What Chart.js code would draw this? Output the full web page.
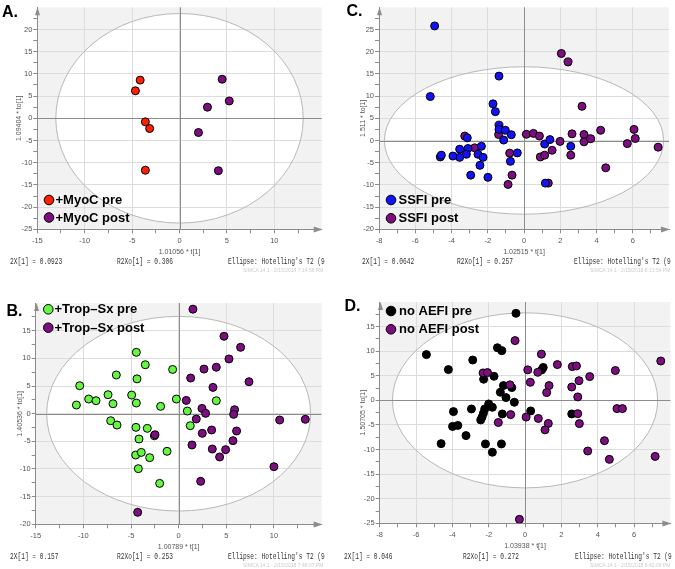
<!DOCTYPE html>
<html>
<head>
<meta charset="utf-8">
<script src="https://cdn.jsdelivr.net/npm/chart.js@4.4.1/dist/chart.umd.min.js"></script>
<style>
  body { margin: 0; width: 675px; height: 569px; background: #fff; position: relative; overflow: hidden; }
  canvas { position: absolute; }
  .tag { position: absolute; font: bold 16px/16px "Liberation Sans", Arial, sans-serif; color: #000; }
  .stat { position: absolute; font: 8.5px/10px "Liberation Mono", monospace; color: #333; white-space: nowrap; transform: scaleX(0.73); transform-origin: 0 0; }
  .simca { position: absolute; font: 5px/6px "Liberation Sans", Arial, sans-serif; color: #ccc; white-space: nowrap; }
</style>
</head>
<body>
<script>
// score values, one [t[1], to[1]] pair per observation
const myocPre = [[-4.15, 8.6], [-4.65, 6.2], [-3.6, -0.8], [-3.15, -2.3], [-3.6, -11.7]];
const myocPost = [[4.5, 8.8], [5.25, 3.9], [2.95, 2.5], [2.0, -3.2], [4.1, -11.8]];

const tropPre = [[-10.38, 5.06], [-10.73, 1.57], [-9.44, 2.65], [-8.67, 2.35], [-7.41, 3.43], [-6.89, 1.8],
  [-6.54, 7.0], [-7.13, -1.27], [-6.47, -2.05], [-4.44, 11.1], [-4.37, 6.3], [-3.5, 8.85], [-4.93, 3.37],
  [-4.44, 1.93], [-4.48, -2.47], [-4.16, -4.58], [-3.29, -2.65], [-2.55, -4.0], [-4.51, -7.47], [-3.92, -7.0],
  [-3.04, -7.95], [-4.23, -9.94], [-1.89, 1.33], [-1.99, -12.6], [-1.22, -6.8], [-0.63, 8.0], [-0.24, 2.65],
  [0.91, 0.48], [1.22, -2.17], [3.95, 2.35]];
const tropPost = [[1.5, 18.9], [4.76, 14.0], [6.5, 12.0], [5.28, 9.9], [3.95, 8.4], [2.66, 8.07], [1.26, 6.45],
  [3.6, 4.76], [7.38, 5.78], [0.8, 2.4], [2.45, 0.96], [2.83, 0.06], [1.85, -0.96], [5.87, 0.72], [5.77, -0.12],
  [3.46, -2.95], [2.48, -3.55], [6.08, -3.13], [5.7, -4.88], [1.4, -5.66], [3.53, -6.39], [4.93, -6.5],
  [4.3, -7.83], [10.6, -1.14], [13.29, -1.02], [10.0, -9.58], [2.31, -12.23], [-4.3, -17.83], [-2.48, -3.8]];

const ssfiPre = [[-4.93, 25.8], [-5.17, 9.9], [-1.38, 14.5], [-1.71, 8.25], [-1.58, 6.5], [-1.38, 3.45],
  [-1.38, 2.5], [-1.03, 2.3], [-0.7, 1.3], [-1.12, 0.1], [-3.13, 0.6], [-3.09, -1.8], [-3.18, -3.1],
  [-3.55, -1.95], [-3.55, -3.8], [-3.92, -3.5], [-4.62, -3.7], [-4.56, -3.3], [-2.54, -3.1], [-2.35, -1.3],
  [-2.26, -3.8], [-2.43, -5.6], [-2.94, -7.8], [-1.99, -8.3], [-0.75, -4.7], [-0.37, -2.8], [1.14, -0.8],
  [1.43, 0.2], [2.58, -1.3], [1.18, -9.6]];
const ssfiPost = [[2.06, 19.6], [2.43, 17.7], [3.2, 7.7], [-3.27, 1.0], [-2.72, -1.65], [-1.4, 1.35],
  [-0.79, -2.85], [-0.66, -7.8], [-0.88, -9.9], [0.13, 1.4], [0.52, 1.6], [0.85, 1.0], [0.9, -3.7],
  [1.14, -3.3], [1.55, -2.2], [1.99, -0.2], [1.34, -9.6], [2.58, -3.3], [2.65, 1.5], [3.31, 1.35],
  [3.31, -0.3], [3.68, 0.4], [4.23, 2.3], [4.51, -6.15], [5.7, -0.7], [6.07, 2.5], [6.14, 0.45], [7.4, -1.5]];

const noAefiPre = [[-0.5, 17.7], [-1.52, 10.7], [-1.28, 10.1], [-5.43, 9.3], [-2.88, 8.2], [-4.22, 6.25],
  [-2.28, 4.3], [-1.71, 4.9], [-1.19, 3.0], [-0.73, 2.6], [-1.36, 1.65], [-1.05, 0.56], [-0.59, -0.39],
  [-2.0, -0.73], [-1.8, -1.41], [-2.22, -1.75], [-2.29, -2.63], [-2.37, -3.44], [-2.44, -3.98], [-3.94, -2.29],
  [-2.95, -1.75], [-1.25, -2.77], [-3.99, -5.3], [-3.7, -5.1], [-3.25, -7.17], [-4.62, -8.8], [-2.18, -8.86],
  [-1.8, -10.55], [-1.3, -8.86], [0.31, -2.15], [0.92, 6.2], [1.0, 6.7], [2.57, -2.76]];
const noAefiPost = [[-0.55, 12.15], [-2.31, 5.58], [-2.07, 5.65], [-0.83, 3.15], [-1.47, -4.5], [-0.79, -2.9],
  [0.06, -3.4], [0.15, 6.2], [0.29, 3.67], [0.9, 9.4], [0.7, 5.7], [1.78, 7.27], [1.32, 3.0], [1.19, 1.58],
  [0.73, -3.68], [1.28, -4.7], [1.1, -6.0], [2.6, 6.86], [2.83, 7.0], [2.97, 4.0], [2.57, 2.71], [2.9, 0.7],
  [2.9, -2.7], [2.99, -4.73], [3.56, 4.83], [4.97, 6.07], [5.06, -1.68], [5.36, -1.68], [3.45, -10.3],
  [4.37, -8.2], [4.64, -12.0], [7.16, -11.4], [7.47, 8.0], [-0.31, -24.2]];

// Hotelling's T2 ellipse half-widths [t[1], to[1]]
const ellipses = [[13.05, 23.6], [13.85, 17.6], [7.7, 16.6], [7.3, 17.8]];

// texts, panel order A, B, C, D
const tags = ['A.', 'B.', 'C.', 'D.'];
const xTitles = ['1.01056 * t[1]', '1.00789 * t[1]', '1.02515 * t[1]', '1.03938 * t[1]'];
const yTitles = ['1.09404 * to[1]', '1.40536 * to[1]', '1.511 * to[1]', '1.50705 * to[1]'];
const r2x = ['2X[1] = 0.0923', '2X[1] = 0.157', '2X[1] = 0.0642', '2X[1] = 0.046'];
const r2xo = ['R2Xo[1] = 0.306', 'R2Xo[1] = 0.253', 'R2Xo[1] = 0.257', 'R2Xo[1] = 0.272'];
const ellipseNote = "Ellipse: Hotelling's T2 (9";
const simcaNotes = ['SIMCA 14.1 - 2/15/2018 7:14:56 PM', 'SIMCA 14.1 - 2/15/2018 7:48:07 PM',
  'SIMCA 14.1 - 2/15/2018 8:13:54 PM', 'SIMCA 14.1 - 2/15/2018 8:42:09 PM'];

// axis ranges [min, max, minor step, major step]
const xRanges = [[-15, 15, 2.5, 5], [-15, 15, 2.5, 5], [-8, 8, 1, 2], [-8, 8, 1, 2]];
const yRanges = [[-25, 25, 2.5, 5], [-20, 20, 2.5, 5], [-20, 30, 2.5, 5], [-25, 20, 2.5, 5]];

const PURPLE = '#7c0e80';
const groups = [
  [{ label: '+MyoC pre', data: myocPre, color: '#ff2000', rank: 0 }, { label: '+MyoC post', data: myocPost, color: PURPLE, rank: 1 }],
  [{ label: '+Trop\u2013Sx post', data: tropPost, color: PURPLE, rank: 1 }, { label: '+Trop\u2013Sx pre', data: tropPre, color: '#66f542', rank: 0 }],
  [{ label: 'SSFI pre', data: ssfiPre, color: '#1212f5', rank: 0 }, { label: 'SSFI post', data: ssfiPost, color: PURPLE, rank: 1 }],
  [{ label: 'no AEFI post', data: noAefiPost, color: PURPLE, rank: 1 }, { label: 'no AEFI pre', data: noAefiPre, color: '#000000', rank: 0 }]
];

// page placement (pixels)
const frames = [
  { canvas: [0, 0, 337, 258], area: [37.3, 7.3, 321.7, 229.3], yTitleX: 19, legend: [49, 200, 17.5, 55.5], tag: [2, 17.3], statY: 261.5, statX: [10, 116.7, 227.7], noteR: 323 },
  { canvas: [0, 290, 337, 263], area: [35.7, 303.1, 321.6, 524.3], yTitleX: 20, legend: [48.3, 309.3, 18.4, 54.5], tag: [6.5, 316.7], statY: 556.5, statX: [10, 116.7, 227.7], noteR: 323 },
  { canvas: [337, 0, 338, 258], area: [379, 7.3, 669, 229.3], yTitleX: 363.3, legend: [391, 200, 18.3, 398.5], tag: [346.5, 16.7], statY: 261.5, statX: [361.7, 456.7, 574.3], noteR: 670 },
  { canvas: [337, 290, 338, 262], area: [379.7, 302, 670.4, 523.3], yTitleX: 363.3, legend: [391, 311, 18.3, 399], tag: [344.5, 311.5], statY: 556.5, statX: [344.3, 462.7, 575], noteR: 670 }
];

Chart.defaults.font.family = '"Liberation Sans", Arial, sans-serif';

const isMult = (v, m) => Math.abs(v / m - Math.round(v / m)) < 1e-6;
const crisp = v => Math.round(v) + 0.5;

const scorePlot = {
  id: 'score',
  beforeDraw(chart, args, o) {
    const { ctx, chartArea: a, scales: { x, y } } = chart;
    ctx.save();
    ctx.fillStyle = '#f2f2f2';
    ctx.fillRect(a.left, a.top, a.right - a.left, a.bottom - a.top);
    const cx = x.getPixelForValue(0), cy = y.getPixelForValue(0);
    ctx.beginPath();
    ctx.ellipse(cx, cy, x.getPixelForValue(o.ellipse[0]) - cx, cy - y.getPixelForValue(o.ellipse[1]), 0, 0, Math.PI * 2);
    ctx.fillStyle = '#fff';
    ctx.fill();
    ctx.restore();
  },
  beforeDatasetsDraw(chart, args, o) {
    const { ctx, chartArea: a, scales: { x, y } } = chart;
    const cx = x.getPixelForValue(0), cy = y.getPixelForValue(0);
    ctx.save();
    ctx.beginPath();
    ctx.ellipse(cx, cy, x.getPixelForValue(o.ellipse[0]) - cx, cy - y.getPixelForValue(o.ellipse[1]), 0, 0, Math.PI * 2);
    ctx.strokeStyle = '#b8b8b8';
    ctx.lineWidth = 1;
    ctx.stroke();
    // zero lines
    ctx.strokeStyle = '#8c8c8c';
    ctx.beginPath();
    ctx.moveTo(crisp(cx), a.top); ctx.lineTo(crisp(cx), a.bottom);
    ctx.moveTo(a.left, crisp(cy)); ctx.lineTo(a.right, crisp(cy));
    ctx.stroke();
    // axis arrows
    ctx.fillStyle = '#8c8c8c';
    const bx = crisp(a.left), by = crisp(a.bottom);
    ctx.beginPath();
    ctx.moveTo(a.right + 1, by); ctx.lineTo(a.right - 8, by - 3); ctx.lineTo(a.right - 8, by + 3); ctx.closePath();
    ctx.moveTo(bx, a.top); ctx.lineTo(bx - 2.5, a.top + 8); ctx.lineTo(bx + 2.5, a.top + 8); ctx.closePath();
    ctx.fill();
    ctx.restore();
  },
  afterDatasetsDraw(chart, args, o) {
    const { ctx } = chart;
    const [lx, ly, dy, tx] = o.legend;
    const items = chart.data.datasets.slice().sort((p, q) => p.rank - q.rank);
    ctx.save();
    ctx.font = 'bold 13px "Liberation Sans", Arial, sans-serif';
    ctx.textBaseline = 'middle';
    items.forEach((ds, i) => {
      const cy = ly + i * dy;
      ctx.beginPath();
      ctx.arc(lx, cy, 4.8, 0, Math.PI * 2);
      ctx.fillStyle = ds.backgroundColor;
      ctx.fill();
      ctx.lineWidth = 1;
      ctx.strokeStyle = '#000';
      ctx.stroke();
      ctx.fillStyle = '#000';
      ctx.fillText(ds.label, tx, cy + 0.5);
    });
    ctx.restore();
  }
};

function addText(cls, text, left, top) {
  const d = document.createElement('div');
  d.className = cls;
  d.textContent = text;
  d.style.left = left + 'px';
  d.style.top = top + 'px';
  document.body.appendChild(d);
  return d;
}

function linearAxis(range, crossLen, title, titlePad, horizontal) {
  const [min, max, minor, major] = range;
  return {
    type: 'linear',
    position: horizontal ? 'bottom' : 'left',
    min, max,
    ticks: {
      stepSize: minor, autoSkip: false, maxRotation: 0,
      padding: horizontal ? 3.5 : 1,
      color: '#555', font: { size: 7.5 },
      callback: v => (isMult(v, major) && v !== max) ? String(v) : ''
    },
    grid: {
      color: c => (isMult(c.tick.value, major) && c.tick.value !== max && c.tick.value !== min) ? '#dcdcdc' : 'rgba(0,0,0,0)',
      tickColor: c => c.tick.value === max ? 'rgba(0,0,0,0)' : '#8c8c8c',
      tickLength: 4
    },
    border: { color: '#8c8c8c', width: 1 },
    title: { display: true, text: title, color: '#555', font: { size: 7 }, padding: titlePad },
    afterFit: s => { if (horizontal) s.height = crossLen; else s.width = crossLen; }
  };
}

frames.forEach((f, i) => {
  const [L, T, W, H] = f.canvas;
  const [al, at, ar, ab] = f.area;
  const cv = document.createElement('canvas');
  cv.width = W; cv.height = H;
  cv.style.left = L + 'px'; cv.style.top = T + 'px';
  document.body.appendChild(cv);

  const xAxisH = T + H - ab;
  const halfLine = 7 * 1.2 / 2;
  const xPad = { top: 0, bottom: T + H - (ab + 22.5) - halfLine };
  const yPad = { top: f.yTitleX - L - halfLine, bottom: 0 };

  new Chart(cv, {
    type: 'scatter',
    data: {
      datasets: groups[i].map(g => ({
        label: g.label,
        rank: g.rank,
        data: g.data.map(([x, y]) => ({ x, y })),
        backgroundColor: g.color,
        borderColor: '#000',
        borderWidth: 1,
        pointRadius: 4
      }))
    },
    options: {
      responsive: false,
      animation: false,
      events: [],
      layout: { padding: { top: at - T, right: L + W - ar, bottom: 0, left: 0 }, autoPadding: false },
      plugins: {
        legend: { display: false },
        tooltip: { enabled: false },
        score: {
          ellipse: ellipses[i],
          legend: [f.legend[0] - L, f.legend[1] - T, f.legend[2], f.legend[3] - L]
        }
      },
      scales: {
        x: linearAxis(xRanges[i], xAxisH, xTitles[i], xPad, true),
        y: linearAxis(yRanges[i], al - L, yTitles[i], yPad, false)
      }
    },
    plugins: [scorePlot]
  });

  addText('tag', tags[i], f.tag[0], f.tag[1] - 13.5);
  addText('stat', r2x[i], f.statX[0], f.statY - 4.5);
  addText('stat', r2xo[i], f.statX[1], f.statY - 4.5);
  addText('stat', ellipseNote, f.statX[2], f.statY - 4.5);
  const n = addText('simca', simcaNotes[i], 0, f.statY + 5);
  n.style.left = (f.noteR - n.offsetWidth) + 'px';
});
</script>
</body>
</html>
